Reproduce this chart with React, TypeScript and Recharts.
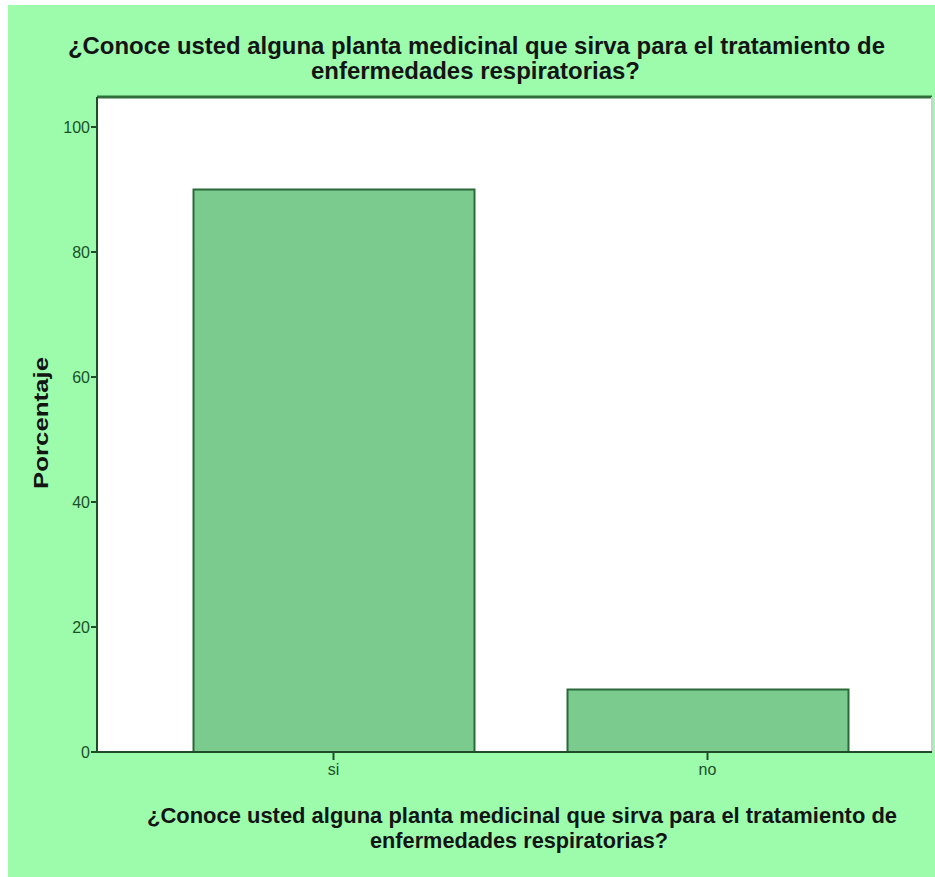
import React from 'react';
import { BarChart, Bar, XAxis, YAxis, CartesianGrid } from 'recharts';

const categories = ['si', 'no'];
const percentages = [90, 10];
const yTicks = [0, 20, 40, 60, 80, 100];
const titleLines = [
  '¿Conoce usted alguna planta medicinal que sirva para el tratamiento de',
  'enfermedades respiratorias?',
];
const yLabel = 'Porcentaje';

const data = categories.map((c, i) => ({ name: c, value: percentages[i] }));

const BG = '#9cfcac';
const AXIS = '#1f4d29';
const TICK_TEXT = '#1b5028';
const FONT = '"Liberation Sans", Arial, sans-serif';

export default function App() {
  return (
    <div
      style={{
        position: 'absolute',
        left: 8,
        top: 5,
        width: 927,
        height: 872,
        background: BG,
        fontFamily: FONT,
      }}
    >
      <BarChart
        width={927}
        height={872}
        data={data}
        margin={{ top: 91, right: 2, bottom: 0, left: 0 }}
      >
        <CartesianGrid fill="#ffffff" horizontal={false} vertical={false} />
        <XAxis
          xAxisId="top"
          dataKey="name"
          orientation="top"
          height={1}
          tick={false}
          tickLine={false}
          axisLine={{ stroke: '#2f6e3b', strokeWidth: 3 }}
          padding={{ left: 49.5, right: 37.5 }}
        />
        <YAxis
          yAxisId="right"
          orientation="right"
          width={1}
          tick={false}
          tickLine={false}
          domain={[0, 104.8]}
          type="number"
          axisLine={{ stroke: '#c3d6c6', strokeWidth: 2 }}
        />
        <XAxis
          dataKey="name"
          height={125}
          padding={{ left: 49.5, right: 37.5 }}
          tickSize={8}
          tickMargin={4}
          tick={{ fill: TICK_TEXT, fontSize: 16, fontFamily: FONT }}
          tickLine={{ stroke: AXIS, strokeWidth: 2 }}
          axisLine={{ stroke: AXIS, strokeWidth: 2 }}
        />
        <YAxis
          type="number"
          width={89}
          domain={[0, 104.8]}
          ticks={yTicks}
          allowDataOverflow
          tickSize={6}
          tickMargin={1}
          tick={{ fill: TICK_TEXT, fontSize: 16, fontFamily: FONT }}
          tickLine={{ stroke: AXIS, strokeWidth: 2 }}
          axisLine={{ stroke: AXIS, strokeWidth: 2 }}
        />
        <Bar
          dataKey="value"
          barSize={281}
          fill="#7bcb8e"
          stroke="#2a6a38"
          strokeWidth={2}
          isAnimationActive={false}
        />
      </BarChart>
      <svg
        width={927}
        height={872}
        style={{ position: 'absolute', left: 0, top: 0, pointerEvents: 'none' }}
      >
        <g fontFamily={FONT} fontWeight="bold" fill="#141414" textAnchor="middle">
          <text x={468.5} y={49} fontSize={24} textLength={817} lengthAdjust="spacingAndGlyphs">
            {titleLines[0]}
          </text>
          <text x={467.5} y={74} fontSize={24} textLength={329} lengthAdjust="spacingAndGlyphs">
            {titleLines[1]}
          </text>
          <text x={514} y={818} fontSize={22} textLength={750} lengthAdjust="spacingAndGlyphs">
            {titleLines[0]}
          </text>
          <text x={511} y={843} fontSize={22} textLength={298} lengthAdjust="spacingAndGlyphs">
            {titleLines[1]}
          </text>
          <text
            transform="translate(40,418) rotate(-90)"
            x={0}
            y={0}
            fontSize={20}
            textLength={132}
            lengthAdjust="spacingAndGlyphs"
          >
            {yLabel}
          </text>
        </g>
      </svg>
    </div>
  );
}
